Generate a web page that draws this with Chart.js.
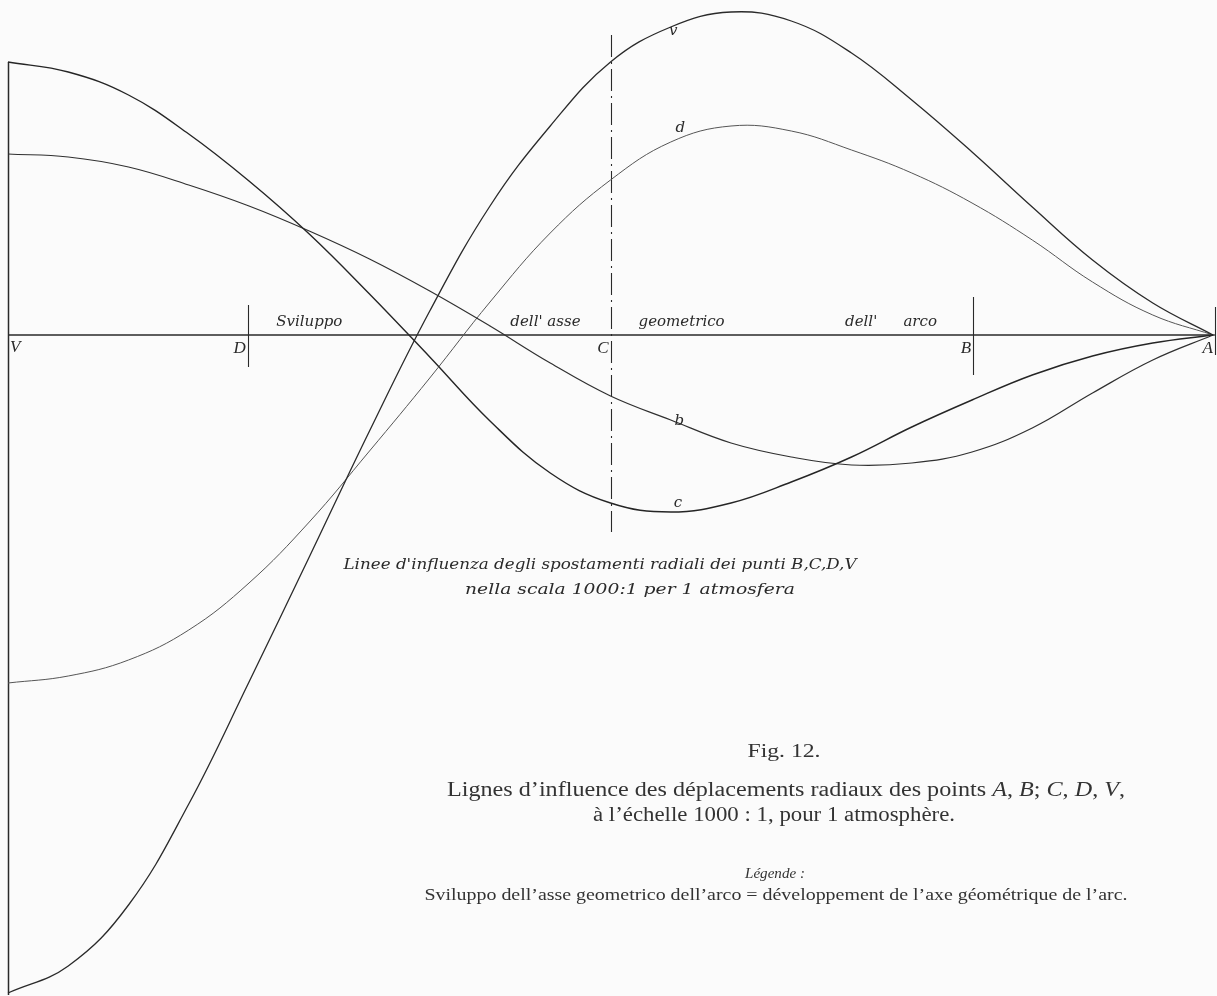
<!DOCTYPE html>
<html lang="it">
<head>
    <meta charset="UTF-8">
    <title>Linee d'influenza | Fig. 12</title>
    <script src="https://cdn.jsdelivr.net/npm/chart.js"></script>
    <style>
        body { margin: 0; background: #fbfbfb; }
        #box { width: 1217px; height: 996px; }
    </style>
</head>
<body>
<div id="box"><canvas id="grafico"></canvas></div>

<script>
    // ascissa = sviluppo dell'asse geometrico dell'arco (V = 0 ... A = 100)
    const ascisse = [0, 5, 10, 15, 20, 25, 30, 35, 40, 45, 50, 55, 60, 65, 70, 75, 80, 85, 90, 95, 100];

    // ordinate (spostamenti radiali, scala 1000:1)
    const linea_c = [273, 263, 240, 201, 154, 101, 41, -22, -86, -138, -168, -177, -168, -147, -122, -92, -65, -40, -21, -8, 0];
    const linea_b = [181, 178, 168, 150, 129, 104, 76, 44, 9, -28, -61, -85, -108, -122, -130, -128, -117, -93, -58, -25, 0];
    const linea_v = [-658, -631, -570, -469, -347, -222, -96, 24, 129, 209, 273, 308, 323, 314, 282, 235, 183, 128, 75, 32, 0];
    const linea_d = [-348, -341, -325, -295, -248, -187, -116, -43, 33, 102, 155, 193, 209, 204, 185, 162, 132, 95, 53, 20, 0];

    // punti dell'arco
    const punti = ['V', 'D', 'C', 'B', 'A'];
    const posizioni = [0, 19.9, 50, 80.1, 100.15];
    const cima = [273, 30, 300, 38, 28];
    const fondo = [-660, -32, -197, -40, -20];

    // etichette delle curve
    const nomiCurve = ['v', 'd', 'b', 'c'];
    const etichettaX = [55.2, 55.8, 55.7, 55.6];
    const etichettaY = [304, 207, -86, -168];

    // scritta lungo l'asse
    const parole = ['Sviluppo', "dell' asse", 'geometrico', "dell'", 'arco'];
    const paroleX = [25.0, 44.6, 55.9, 70.8, 75.7];

    function serie(valori) {
        let punti = [];
        for (let i = 0; i < ascisse.length; i += 1) {
            punti.push({ x: ascisse[i], y: valori[i] });
        }
        return punti;
    }

    function testo(ctx, str, cx, y, larghezza, font) {
        ctx.font = font;
        const w = ctx.measureText(str).width;
        ctx.save();
        ctx.translate(cx, y);
        ctx.scale(larghezza / w, 1);
        ctx.textAlign = 'center';
        ctx.textBaseline = 'alphabetic';
        ctx.fillText(str, 0, 0);
        ctx.restore();
    }

    // riga con pezzi in corsivo
    function riga(ctx, pezzi, cx, y, larghezza, size) {
        let tot = 0;
        for (const p of pezzi) {
            ctx.font = (p.i ? 'italic ' : '') + size + 'px "Liberation Serif"';
            tot += ctx.measureText(p.t).width;
        }
        const k = larghezza / tot;
        ctx.save();
        ctx.translate(cx - larghezza / 2, y);
        ctx.scale(k, 1);
        ctx.textAlign = 'left';
        let x = 0;
        for (const p of pezzi) {
            ctx.font = (p.i ? 'italic ' : '') + size + 'px "Liberation Serif"';
            ctx.fillText(p.t, x, 0);
            x += ctx.measureText(p.t).width;
        }
        ctx.restore();
    }

    const disegno = {
        id: 'disegno',
        beforeDatasetsDraw(chart) {
            const ctx = chart.ctx;
            const sx = chart.scales.x;
            const sy = chart.scales.y;
            ctx.save();
            ctx.strokeStyle = '#2a2a2a';

            // asse dell'arco
            ctx.lineWidth = 1.6;
            ctx.beginPath();
            ctx.moveTo(sx.getPixelForValue(posizioni[0]), sy.getPixelForValue(0));
            ctx.lineTo(sx.getPixelForValue(posizioni[4]), sy.getPixelForValue(0));
            ctx.stroke();

            // verticali nei punti
            for (let i = 0; i < punti.length; i += 1) {
                const px = Math.round(sx.getPixelForValue(posizioni[i])) + 0.5;
                ctx.lineWidth = i == 0 ? 1.5 : 1.1;
                ctx.setLineDash(punti[i] == 'C' ? [22, 5, 2, 5] : []);
                ctx.beginPath();
                ctx.moveTo(px, sy.getPixelForValue(cima[i]));
                ctx.lineTo(px, sy.getPixelForValue(fondo[i]));
                ctx.stroke();
            }
            ctx.setLineDash([]);
            ctx.restore();
        },
        afterDraw(chart) {
            const ctx = chart.ctx;
            const sx = chart.scales.x;
            const sy = chart.scales.y;
            const y0 = sy.getPixelForValue(0);
            ctx.save();
            ctx.fillStyle = '#2a2a2a';

            // lettere dei punti
            ctx.font = 'italic 17px "Liberation Serif"';
            ctx.textBaseline = 'alphabetic';
            for (let i = 0; i < punti.length; i += 1) {
                const px = sx.getPixelForValue(posizioni[i]);
                if (i == 0) {
                    ctx.textAlign = 'left';
                    ctx.fillText(punti[i], px + 2, y0 + 17);
                } else {
                    ctx.textAlign = 'right';
                    ctx.fillText(punti[i], px - 2, y0 + 18);
                }
            }

            // scritta a mano sopra l'asse
            ctx.font = 'italic 15px "DejaVu Serif"';
            ctx.textAlign = 'center';
            for (let i = 0; i < parole.length; i += 1) {
                ctx.fillText(parole[i], sx.getPixelForValue(paroleX[i]), y0 - 9);
            }

            // nomi delle curve
            ctx.font = 'italic 15px "DejaVu Serif"';
            ctx.textBaseline = 'middle';
            for (let i = 0; i < nomiCurve.length; i += 1) {
                ctx.fillText(nomiCurve[i], sx.getPixelForValue(etichettaX[i]), sy.getPixelForValue(etichettaY[i]));
            }
            ctx.textBaseline = 'alphabetic';

            // didascalia manoscritta
            testo(ctx, "Linee d'influenza degli spostamenti radiali dei punti B,C,D,V", 600, 569, 513, 'italic 15px "DejaVu Serif"');
            testo(ctx, 'nella scala 1000:1 per 1 atmosfera', 630, 594, 330, 'italic 15px "DejaVu Serif"');

            // didascalia stampata
            ctx.fillStyle = '#333';
            testo(ctx, 'Fig. 12.', 784, 757, 73, '19px "Liberation Serif"');
            riga(ctx, [
                { t: 'Lignes d\u2019influence des déplacements radiaux des points ', i: false },
                { t: 'A', i: true }, { t: ', ', i: false },
                { t: 'B', i: true }, { t: '; ', i: false },
                { t: 'C', i: true }, { t: ', ', i: false },
                { t: 'D', i: true }, { t: ', ', i: false },
                { t: 'V', i: true }, { t: ',', i: false }
            ], 786, 796, 678, 20);
            testo(ctx, 'à l\u2019échelle 1000 : 1, pour 1 atmosphère.', 774, 821, 362, '20px "Liberation Serif"');
            testo(ctx, 'Légende :', 775, 878, 60, 'italic 14px "Liberation Serif"');
            testo(ctx, 'Sviluppo dell\u2019asse geometrico dell\u2019arco = développement de l\u2019axe géométrique de l\u2019arc.', 776, 900, 703, '16px "Liberation Serif"');
            ctx.restore();
        }
    };

    const config = {
        type: 'scatter',
        data: {
            datasets: [
                { label: 'c', data: serie(linea_c), borderColor: '#252525', borderWidth: 1.4 },
                { label: 'b', data: serie(linea_b), borderColor: '#303030', borderWidth: 1.2 },
                { label: 'v', data: serie(linea_v), borderColor: '#2a2a2a', borderWidth: 1.3 },
                { label: 'd', data: serie(linea_d), borderColor: '#555555', borderWidth: 1.0 }
            ]
        },
        options: {
            responsive: true,
            maintainAspectRatio: false,
            animation: false,
            showLine: true,
            elements: {
                point: { radius: 0, hoverRadius: 0 },
                line: { tension: 0.4, fill: false }
            },
            layout: { padding: 0 },
            scales: {
                x: { type: 'linear', min: -0.664, max: 100.33, display: false },
                y: { min: -661, max: 335, display: false }
            },
            plugins: {
                legend: { display: false },
                tooltip: { enabled: false }
            }
        },
        plugins: [disegno]
    };

    new Chart(document.getElementById('grafico'), config);
</script>
</body>
</html>
